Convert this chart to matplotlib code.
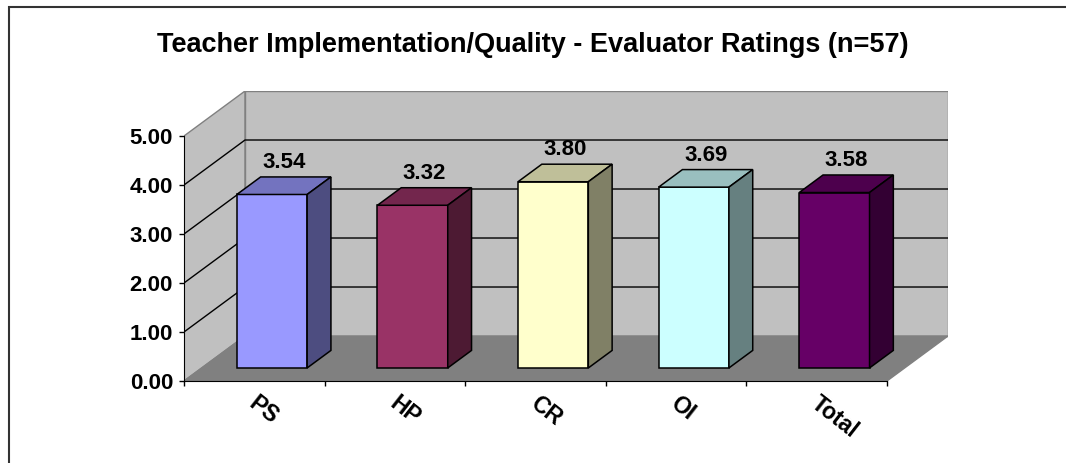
import numpy as np
import matplotlib
matplotlib.use('Agg')
import matplotlib.pyplot as plt
from matplotlib.patches import Polygon, Rectangle
from matplotlib.colors import to_rgb

# --- data ---
categories = ['PS', 'HP', 'CR', 'OI', 'Total']
ratings = [3.54, 3.32, 3.80, 3.69, 3.58]
bar_colors = ['#9999FF', '#993366', '#FFFFCC', '#CCFFFF', '#660066']
y_ticks = [0, 1, 2, 3, 4, 5]
title = 'Teacher Implementation/Quality - Evaluator Ratings (n=57)'

plt.rcParams['font.family'] = ['Liberation Sans', 'DejaVu Sans']
plt.rcParams['font.weight'] = 'bold'

# depth of the 3D box (x and y shift of the back wall, in data units)
DX, DY = 0.434, 0.918
# bars start part-way into the floor and have their own depth
BAR_Z0, BAR_Z1 = 0.29, 0.68
BAR_W = 0.5
WALL = '#C0C0C0'
FLOOR = '#808080'
EDGE = '#808080'

n = len(categories)
ymax = y_ticks[-1]

fig = plt.figure(figsize=(10.66, 4.63), dpi=100)
ax = fig.add_axes([184 / 1066, 82 / 463, 764 / 1066, 290 / 463])
ax.set_xlim(0, n + DX)
ax.set_ylim(0, ymax + DY)
ax.patch.set_visible(False)

# walls and floor
ax.add_patch(Polygon([(0, 0), (0, ymax), (DX, ymax + DY), (DX, DY)],
                     fc=WALL, ec=EDGE, lw=1, zorder=1))
ax.add_patch(Polygon([(DX, DY), (n + DX, DY), (n + DX, ymax + DY), (DX, ymax + DY)],
                     fc=WALL, ec=EDGE, lw=1, zorder=1))
ax.add_patch(Polygon([(0, 0), (n, 0), (n + DX, DY), (DX, DY)],
                     fc=FLOOR, ec=EDGE, lw=1, zorder=1))

# gridlines run across the side wall and the back wall
for t in y_ticks[1:-1]:
    ax.plot([0, DX, n + DX], [t, t + DY, t + DY], color='black', lw=1, zorder=2)

# 3D bars: front face via ax.bar, top and side faces as polygons
x0 = np.arange(n) + 0.5 - BAR_W / 2 + BAR_Z0 * DX
y0 = BAR_Z0 * DY
bdx = (BAR_Z1 - BAR_Z0) * DX
bdy = (BAR_Z1 - BAR_Z0) * DY
for i, (v, c) in enumerate(zip(ratings, bar_colors)):
    rgb = np.array(to_rgb(c))
    xl = x0[i]
    xr = xl + BAR_W
    top = y0 + v
    ax.bar(xl, v, width=BAR_W, bottom=y0, align='edge', color=c,
           edgecolor='black', lw=1.1, zorder=3)
    ax.add_patch(Polygon([(xl, top), (xr, top), (xr + bdx, top + bdy), (xl + bdx, top + bdy)],
                         fc=rgb * 0.75, ec='black', lw=1.1, zorder=3))
    ax.add_patch(Polygon([(xr, y0), (xr + bdx, y0 + bdy), (xr + bdx, top + bdy), (xr, top)],
                         fc=rgb * 0.5, ec='black', lw=1.1, zorder=3))
    ax.annotate(f'{v:.2f}', (xl + BAR_W / 2 + bdx / 2, top + bdy),
                xytext=(0, 6.5), textcoords='offset points',
                ha='center', va='baseline', fontsize=16, fontweight='bold')

# axes
for side in ['top', 'right']:
    ax.spines[side].set_visible(False)
ax.spines['left'].set_bounds(0, ymax)
ax.spines['bottom'].set_bounds(0, n)
ax.spines['left'].set_zorder(4)
ax.spines['bottom'].set_zorder(4)
ax.set_yticks(y_ticks)
ax.set_yticklabels([f'{t:.2f}' for t in y_ticks], fontsize=16, fontweight='bold')
ax.set_xticks(range(n + 1))
ax.set_xticklabels([])
ax.tick_params(direction='out', length=3.6, width=1, pad=4.3)

for i, name in enumerate(categories):
    ax.annotate(name, (i + 0.5, 0), xytext=(-2, -14), textcoords='offset points',
                rotation=-38, rotation_mode='anchor', ha='left', va='center',
                fontsize=16.5, fontweight='bold', annotation_clip=False)

fig.text(0.5, 1 - 45 / 463, title, ha='center', va='center',
         fontsize=19.5, fontweight='bold')

# chart frame
fig.add_artist(Rectangle((8.5 / 1066, -0.05), 1.1, (463 - 6.5) / 463 + 0.05,
                         transform=fig.transFigure, fill=False,
                         ec='#333333', lw=1.5))

fig.savefig('out.png', dpi=100)
